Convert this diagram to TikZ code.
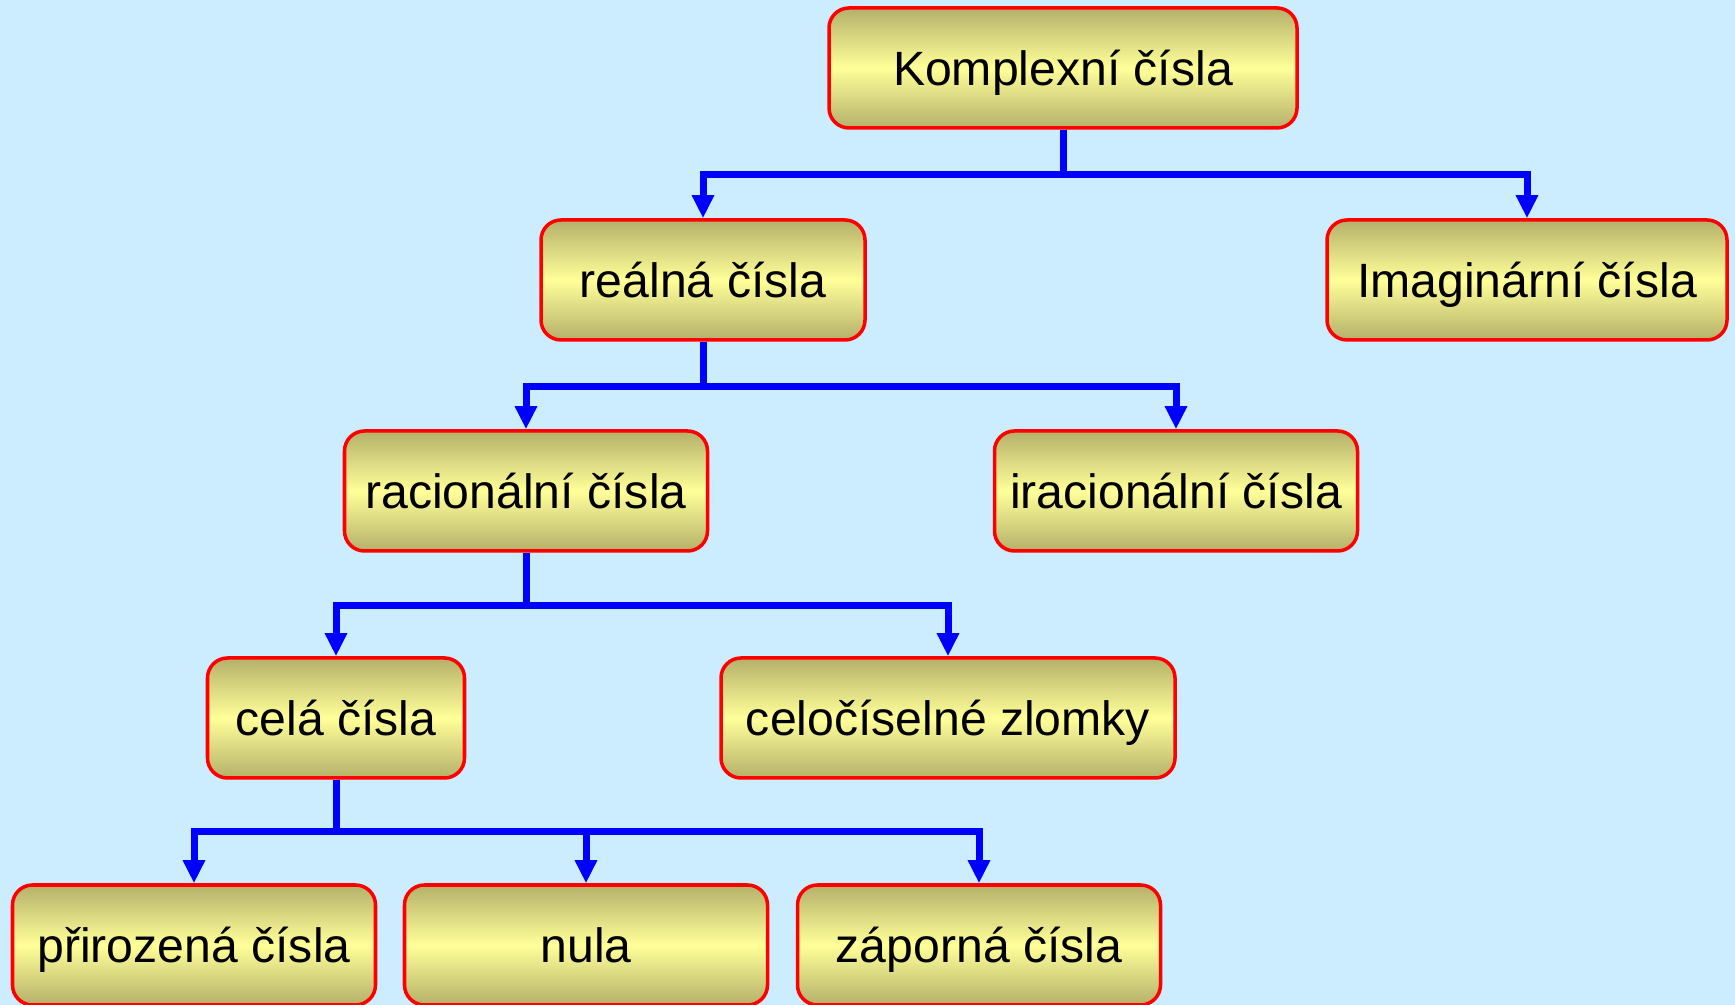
\documentclass[tikz,border=0pt]{standalone}
\usepackage{fontspec}
\setmainfont{Liberation Sans}
\usetikzlibrary{arrows.meta,positioning}
\usepackage{xcolor}
\definecolor{pozadi}{HTML}{CCECFF}
\definecolor{olivova}{HTML}{B5B06A}
\definecolor{zluta}{HTML}{FFFF99}

\begin{document}
\begin{tikzpicture}
\tikzset{
    mynode/.style={rectangle, rounded corners=0.2cm, draw=red, line width=1pt, top color=olivova, bottom color=olivova, middle color=zluta, minimum height=1.2cm, text height=9.8pt, text depth=0pt, font=\fontsize{13.7}{16}\selectfont, text centered},
    myarrow/.style={-{Triangle[width=0.21cm,length=0.23cm]}, draw=blue, line width=0.07cm}
}
\useasboundingbox[fill=pozadi] (0,0) rectangle (17.35,10.05);

\node[mynode, minimum width=4.68cm] (komplexni) at (10.63,9.37) {Komplexní čísla};
\node[mynode, minimum width=3.24cm] (realna) at (7.03,7.25) {reálná čísla};
\node[mynode, minimum width=4.00cm] (imaginarni) at (15.27,7.25) {Imaginární čísla};
\node[mynode, minimum width=3.63cm] (racionalni) at (5.26,5.14) {racionální čísla};
\node[mynode, minimum width=3.63cm] (iracionalni) at (11.76,5.14) {iracionální čísla};
\node[mynode, minimum width=2.57cm] (cela) at (3.36,2.87) {celá čísla};
\node[mynode, minimum width=4.54cm] (zlomky) at (9.48,2.87) {celočíselné zlomky};
\node[mynode, minimum width=3.63cm] (prirozena) at (1.94,0.60) {přirozená čísla};
\node[mynode, minimum width=3.63cm] (nula) at (5.86,0.60) {nula};
\node[mynode, minimum width=3.63cm] (zaporna) at (9.79,0.60) {záporná čísla};
% every branch: down from the parent, across, then down to the child

\draw[myarrow] (komplexni.south) -- ++(0,-0.45) -| (realna.north);
\draw[myarrow] (komplexni.south) -- ++(0,-0.45) -| (imaginarni.north);
\draw[myarrow] (realna.south) -- ++(0,-0.45) -| (racionalni.north);
\draw[myarrow] (realna.south) -- ++(0,-0.45) -| (iracionalni.north);
\draw[myarrow] (racionalni.south) -- ++(0,-0.53) -| (cela.north);
\draw[myarrow] (racionalni.south) -- ++(0,-0.53) -| (zlomky.north);
\draw[myarrow] (cela.south) -- ++(0,-0.52) -| (prirozena.north);
\draw[myarrow] (cela.south) -- ++(0,-0.52) -| (nula.north);
\draw[myarrow] (cela.south) -- ++(0,-0.52) -| (zaporna.north);

\end{tikzpicture}
\end{document}
